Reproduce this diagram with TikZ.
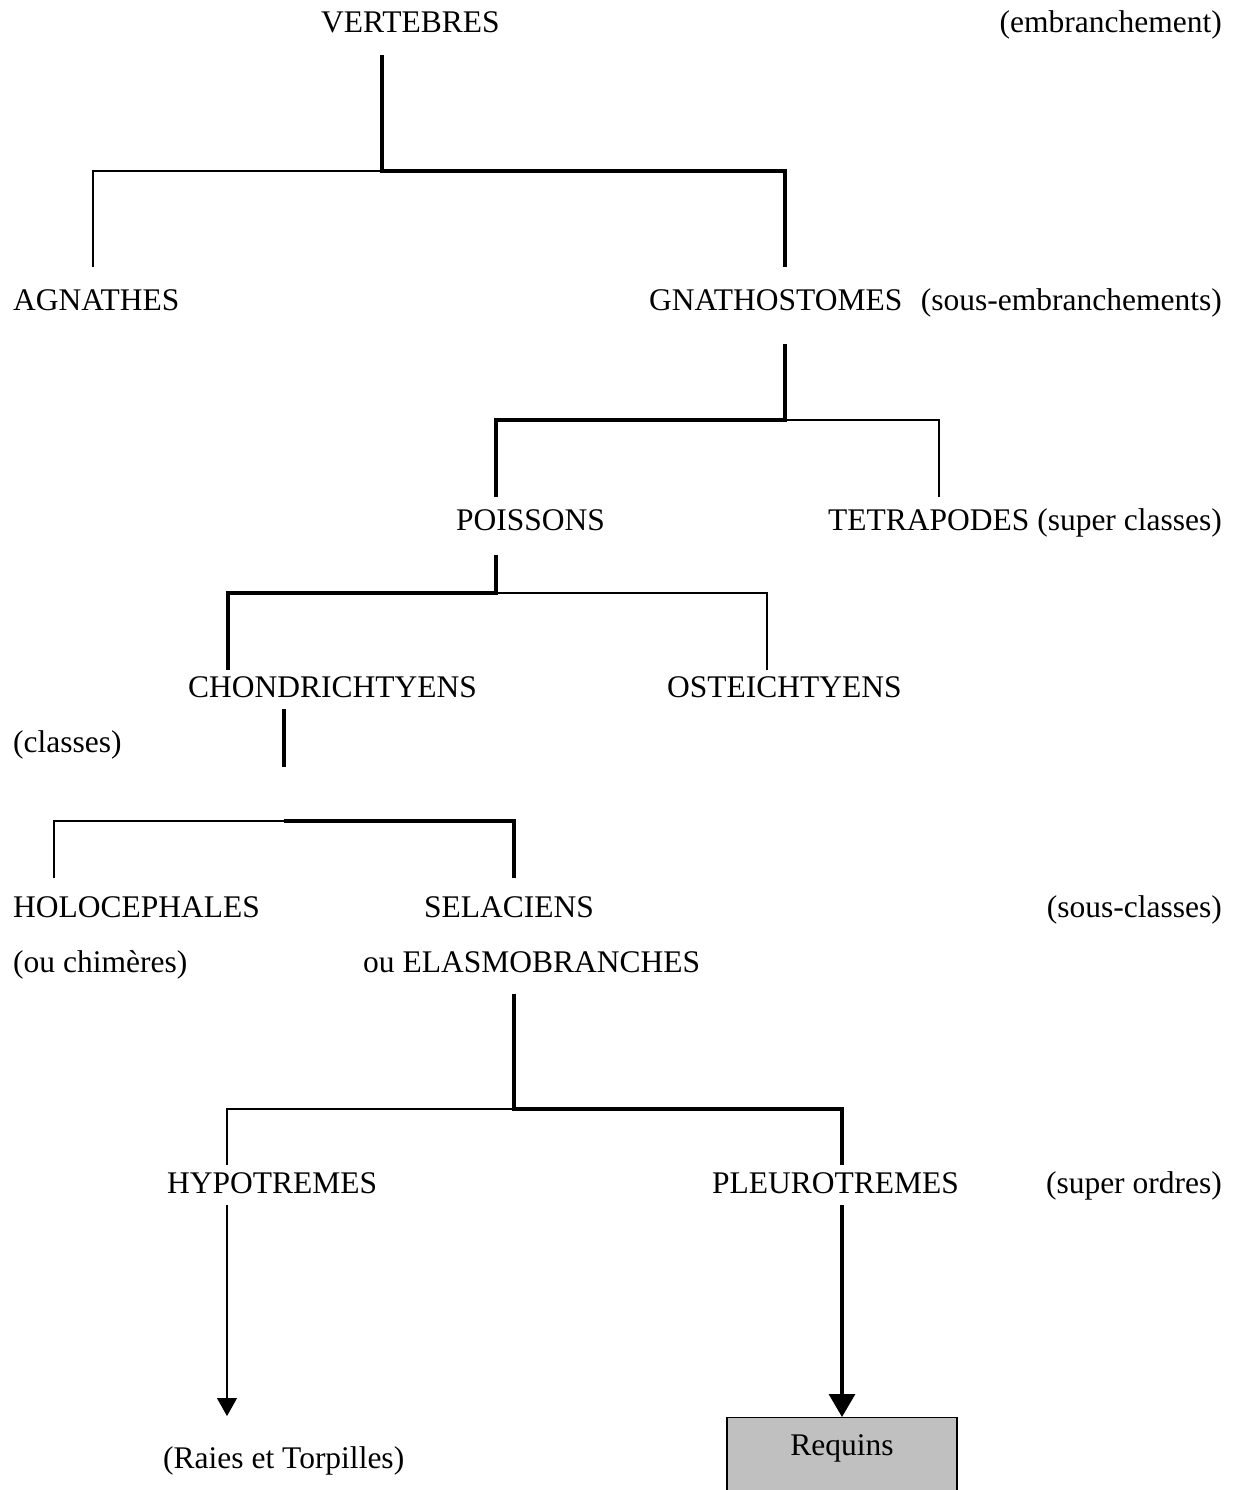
\documentclass[tikz,border=0pt]{standalone}
\usepackage{fontspec}
\setmainfont{Liberation Serif}
\usetikzlibrary{arrows.meta}
\definecolor{boxgray}{RGB}{192,192,192}
\begin{document}
\begin{tikzpicture}[x=1pt,y=-1pt,
  lbl/.style={inner sep=0pt, anchor=base west, font=\fontsize{31.5}{36}\selectfont},
  lblr/.style={lbl, anchor=base east},
  thk/.style={line width=3.2pt},
  thn/.style={line width=1.1pt},
  reqbox/.style={draw, line width=1.3pt, fill=boxgray, anchor=north, minimum width=230pt,
    inner xsep=0pt, inner ysep=16pt, text height=22pt, text depth=45pt,
    font=\fontsize{31.5}{36}\selectfont}
]
\useasboundingbox (0,0) rectangle (1235,1490);
\clip (0,0) rectangle (1235,1490);

% ---- labels ----
\node[lbl]  (vert)  at (321,33)   {VERTEBRES};
\node[lblr] (emb)   at (1222,33)  {(embranchement)};
\node[lbl]  (agn)   at (13,310)   {AGNATHES};
\node[lbl]  (gna)   at (649,310)  {GNATHOSTOMES};
\node[lblr] (semb)  at (1222,310) {(sous-embranchements)};
\node[lbl]  (poi)   at (456,530)  {POISSONS};
\node[lbl]  (tet)   at (828,530)  {TETRAPODES};
\node[lblr] (scl)   at (1222,530) {(super classes)};
\node[lbl]  (cho)   at (188,697)  {CHONDRICHTYENS};
\node[lbl]  (ost)   at (667,697)  {OSTEICHTYENS};
\node[lbl]  (cla)   at (13,752)   {(classes)};
\node[lbl]  (hol)   at (13,917)   {HOLOCEPHALES};
\node[lbl]  (sel)   at (424,917)  {SELACIENS};
\node[lblr] (scla)  at (1222,917) {(sous-classes)};
\node[lbl]  (chi)   at (13,972)   {(ou chimères)};
\node[lbl]  (ela)   at (363,972)  {ou ELASMOBRANCHES};
\node[lbl]  (hyp)   at (167,1193) {HYPOTREMES};
\node[lbl]  (ple)   at (712,1193) {PLEUROTREMES};
\node[lblr] (sord)  at (1222,1193){(super ordres)};
\node[lbl]  (rai)   at (163,1468) {(Raies et Torpilles)};
\node[reqbox] (req) at (842,1417) {Requins};

% ---- connector points ----
\coordinate (vert-b) at (382,55);
\coordinate (j1)     at (382,171);
\coordinate (c1a)    at (93,171);
\coordinate (agn-t)  at (93,267);
\coordinate (c1b)    at (785,171);
\coordinate (gna-t)  at (785,267);

\coordinate (gna-b)  at (785,344);
\coordinate (c2a)    at (496,420);
\coordinate (poi-t)  at (496,497);
\coordinate (c2b)    at (939,420);
\coordinate (tet-t)  at (939,497);

\coordinate (poi-b)  at (496,555);
\coordinate (j3)     at (496,593);
\coordinate (c3a)    at (228,593);
\coordinate (cho-t)  at (228,670);
\coordinate (c3b)    at (767,593);
\coordinate (ost-t)  at (767,670);

\coordinate (cho-b)  at (284,709);
\coordinate (k4)     at (284,767);
\coordinate (j4)     at (284,821);
\coordinate (c4a)    at (54,821);
\coordinate (hol-t)  at (54,878);
\coordinate (c4b)    at (514,821);
\coordinate (sel-t)  at (514,878);

\coordinate (ela-b)  at (514,994);
\coordinate (j5)     at (514,1109);
\coordinate (c5a)    at (227,1109);
\coordinate (hyp-t)  at (227,1165);
\coordinate (c5b)    at (842,1109);
\coordinate (ple-t)  at (842,1165);

\coordinate (hyp-b)  at (227,1205);
\coordinate (rai-t)  at (227,1416);
\coordinate (ple-b)  at (842,1205);

% ---- tree ----
\draw[thn] (j1) -- (c1a) -- (agn-t);
\draw[thk] (vert-b) -- (j1) -- (c1b) -- (gna-t);

\draw[thn] (gna-b |- c2a) -- (c2b) -- (tet-t);
\draw[thk] (gna-b) -- (gna-b |- c2a) -- (c2a) -- (poi-t);

\draw[thn] (j3) -- (c3b) -- (ost-t);
\draw[thk] (poi-b) -- (j3) -- (c3a) -- (cho-t);

\draw[thk] (cho-b) -- (k4);
\draw[thn] (j4) -- (c4a) -- (hol-t);
\draw[thk] (j4) -- (c4b) -- (sel-t);

\draw[thn] (j5) -- (c5a) -- (hyp-t);
\draw[thk] (ela-b) -- (j5) -- (c5b) -- (ple-t);

% ---- arrows ----
\draw[thn, -{Triangle[width=20pt,length=18pt]}] (hyp-b) -- (rai-t);
\draw[thk, -{Triangle[width=26pt,length=23pt]}] (ple-b) -- (req.north);
\end{tikzpicture}
\end{document}
